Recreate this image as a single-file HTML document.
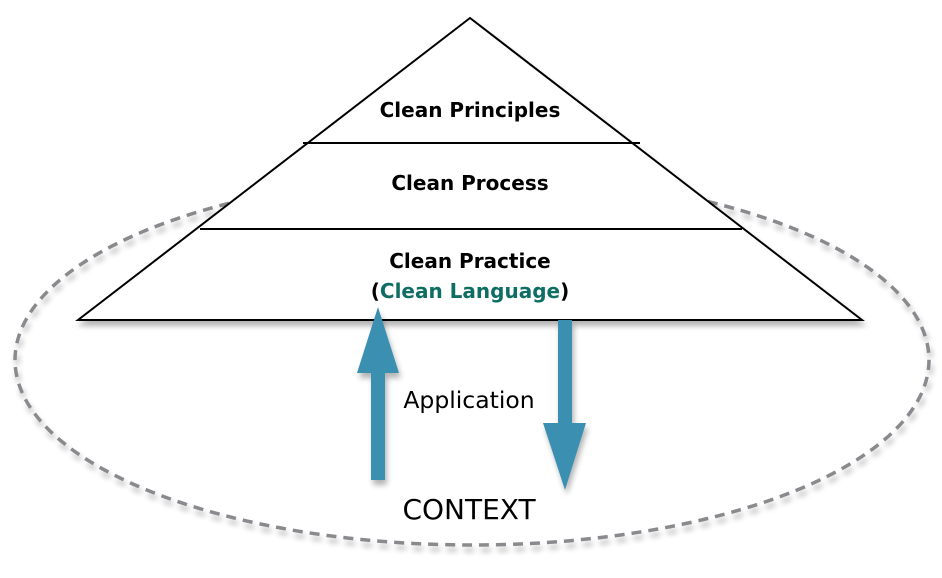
<!DOCTYPE html>
<html><head><meta charset="utf-8"><style>
body{margin:0;background:#fff;width:942px;height:578px;overflow:hidden}
svg{display:block}
text{font-family:"DejaVu Sans","Liberation Sans",sans-serif}
</style></head><body>
<svg width="942" height="578" viewBox="0 0 942 578">
<defs>
<filter id="sh" x="-10%" y="-10%" width="120%" height="130%"><feGaussianBlur in="SourceAlpha" stdDeviation="3"/><feOffset dx="2" dy="5"/><feComponentTransfer><feFuncA type="linear" slope="0.3"/></feComponentTransfer><feMerge><feMergeNode/><feMergeNode in="SourceGraphic"/></feMerge></filter>
</defs>
<ellipse cx="472" cy="360" rx="457" ry="185" fill="none" stroke="#8a8a8e" stroke-width="3.5" stroke-dasharray="10,7" filter="url(#sh)"/>
<polygon points="470,18 78,320 862,320" fill="#fff" stroke="#000" stroke-width="2" filter="url(#sh)"/>
<line x1="303" y1="143" x2="640" y2="143" stroke="#000" stroke-width="2"/>
<line x1="200" y1="229" x2="742" y2="229" stroke="#000" stroke-width="2"/>
<text x="470" y="117" text-anchor="middle" font-size="20" font-weight="bold">Clean Principles</text>
<text x="470" y="190" text-anchor="middle" font-size="20" font-weight="bold">Clean Process</text>
<text x="470" y="268" text-anchor="middle" font-size="20" font-weight="bold">Clean Practice</text>
<text x="470" y="298" text-anchor="middle" font-size="20" font-weight="bold">(<tspan fill="#0f6e63">Clean Language</tspan>)</text>
<g fill="#3b8fb0" filter="url(#sh)">
<polygon points="371,480 385,480 385,373 399,373 378,307 357,373 371,373"/>
<polygon points="558,320 572,320 572,423 586,423 565,490 543,423 558,423"/>
</g>
<text x="469" y="408" text-anchor="middle" font-size="23.5" font-family="Liberation Sans, sans-serif">Application</text>
<text x="469" y="519" text-anchor="middle" font-size="28" font-family="Liberation Sans, sans-serif">CONTEXT</text>
</svg>
</body></html>
